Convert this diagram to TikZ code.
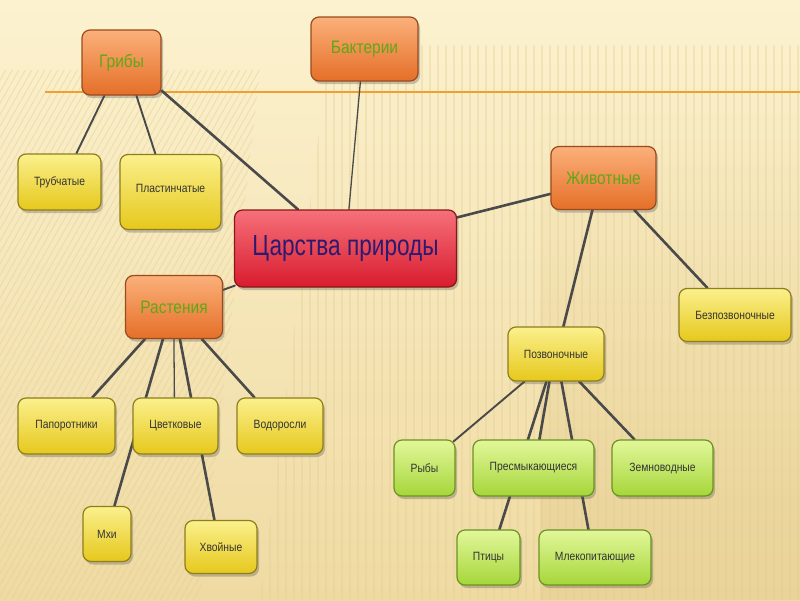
\documentclass[tikz,border=0pt]{standalone}
\usepackage{fontspec}
\setmainfont{Liberation Sans}[FakeStretch=0.86]
\newfontfamily\bigfont{Liberation Sans}[FakeStretch=0.78]
\usetikzlibrary{calc,shadows,fadings}
\pgfdeclarelayer{bg}
\pgfdeclarelayer{edges}
\pgfsetlayers{bg,edges,main}
\definecolor{bgtop}{HTML}{FCF2CF}
\definecolor{bgbot}{HTML}{EFDAA2}
\definecolor{bgtan}{HTML}{E6CF92}
\definecolor{stripe}{HTML}{E3CD94}
\definecolor{orTop}{HTML}{FBB07A}
\definecolor{orBot}{HTML}{E56F28}
\definecolor{orEdge}{HTML}{9A4A1E}
\definecolor{orText}{HTML}{5FA814}
\definecolor{yeTop}{HTML}{FBF08C}
\definecolor{yeBot}{HTML}{E6C81C}
\definecolor{yeEdge}{HTML}{8E7E1C}
\definecolor{grTop}{HTML}{E2F79A}
\definecolor{grBot}{HTML}{A6D63A}
\definecolor{grEdge}{HTML}{6A9420}
\definecolor{rdTop}{HTML}{F6707A}
\definecolor{rdBot}{HTML}{D81C2E}
\definecolor{rdEdge}{HTML}{861818}
\definecolor{rdText}{HTML}{2C1A70}
\definecolor{smText}{HTML}{333333}
\definecolor{conn}{HTML}{4A4A4A}
\definecolor{rule}{HTML}{F0A030}
\begin{document}
\begin{tikzpicture}[x=1pt,y=-1pt,
  box/.style={rounded corners=8pt, line width=1.2pt, inner sep=2pt,
    drop shadow={shadow xshift=2pt,shadow yshift=-3pt,opacity=0.3,fill=black!70}},
  obox/.style={box, draw=orEdge, top color=orTop, bottom color=orBot,
    text=orText, font=\fontsize{18}{20}\selectfont},
  ybox/.style={box, draw=yeEdge, top color=yeTop, bottom color=yeBot,
    text=smText, font=\fontsize{12}{14}\selectfont},
  gbox/.style={box, draw=grEdge, top color=grTop, bottom color=grBot,
    text=smText, font=\fontsize{12}{14}\selectfont},
  rbox/.style={box, draw=rdEdge, top color=rdTop, bottom color=rdBot,
    text=rdText, font=\bigfont\fontsize{29}{32}\selectfont},
  thk/.style={draw=conn, line width=2.6pt, line cap=round},
  med/.style={draw=conn, line width=1.9pt, line cap=round},
  thn/.style={draw=conn, line width=1.3pt, line cap=round},
  dstr/.style={draw=stripe, line width=1pt, opacity=0.45},
  vstr/.style={draw=stripe, line width=1.6pt, opacity=0.35}
]
\useasboundingbox (0,0) rectangle (800,600);

% nodes
\node[obox, minimum width=79pt, minimum height=65pt] (grib) at (121.5,62.5) {Грибы};
\node[obox, minimum width=107pt, minimum height=64pt] (bakt) at (364.5,49) {Бактерии};
\node[ybox, minimum width=83pt, minimum height=56pt] (trub) at (59.5,182) {Трубчатые};
\node[ybox, minimum width=101pt, minimum height=75pt] (plast) at (170.5,192) {\raisebox{8pt}{Пластинчатые}};
\node[rbox, minimum width=222pt, minimum height=77pt] (tsar) at (345.5,248.5) {Царства природы};
\node[obox, minimum width=105pt, minimum height=63pt] (zhiv) at (603.5,178) {Животные};
\node[ybox, minimum width=112pt, minimum height=53pt] (bezp) at (735,315) {Безпозвоночные};
\node[obox, minimum width=97pt, minimum height=63pt] (rast) at (174,307) {Растения};
\node[ybox, minimum width=96pt, minimum height=54pt] (pozv) at (556,354) {Позвоночные};
\node[ybox, minimum width=97pt, minimum height=56pt] (papor) at (66.5,426) {Папоротники};
\node[ybox, minimum width=85pt, minimum height=56pt] (tsvet) at (175.5,426) {Цветковые};
\node[ybox, minimum width=86pt, minimum height=56pt] (vodor) at (280,426) {Водоросли};
\node[ybox, minimum width=48pt, minimum height=55pt] (mkhi) at (107,534) {Мхи};
\node[ybox, minimum width=72pt, minimum height=53pt] (khvoi) at (221,547) {Хвойные};
\node[gbox, minimum width=61pt, minimum height=56pt] (ryby) at (424.5,468) {Рыбы};
\node[gbox, minimum width=121pt, minimum height=56pt] (presm) at (533.5,468) {Пресмыкающиеся};
\node[gbox, minimum width=101pt, minimum height=56pt] (zemn) at (662.5,468) {Земноводные};
\node[gbox, minimum width=63pt, minimum height=55pt] (ptitsy) at (488.5,557.5) {Птицы};
\node[gbox, minimum width=112pt, minimum height=55pt] (mlek) at (595,557.5) {Млекопитающие};

% background
\begin{pgfonlayer}{bg}
\shade[top color=bgtop, bottom color=bgbot] (0,0) rectangle (800,600);
\fill[bgtan, path fading=north, opacity=0.6] (540,110) rectangle (800,600);
\begin{scope}
\clip (0,70) -- (260,70) -- (200,600) -- (0,600) -- cycle;
\foreach \i in {0,...,90} \draw[dstr] ({\i*6.5-340},600) -- ++(340,-600);
\end{scope}
\begin{scope}
\clip (330,45) -- (800,45) -- (800,600) -- (260,600) -- cycle;
\foreach \i in {0,...,70} \draw[vstr] ({262+\i*8},45) -- ++(0,555);
\end{scope}
\end{pgfonlayer}

% connectors
\begin{pgfonlayer}{edges}
\coordinate (ruleL) at (45,92);
\coordinate (ruleR) at (800,92);
\draw[rule, line width=1.8pt] (ruleL) -- (ruleR);
\draw[med] ($(grib.south west)+(23,0)$) -- ($(trub.north west)+(59,0)$);
\draw[med] ($(grib.south west)+(55,0)$) -- ($(plast.north west)+(36,0)$);
\draw[thk] ($(grib.south east)+(0,-5)$) -- ($(tsar.north west)+(64,0)$);
\draw[thn] ($(bakt.south west)+(50,0)$) -- ($(tsar.north west)+(115,0)$);
\draw[thk] ($(tsar.north east)+(0,8)$) -- ($(zhiv.north west)+(0,48)$);
\draw[med] ($(tsar.south west)+(1,-2)$) -- ($(rast.north east)+(0,15)$);
\draw[thk] ($(zhiv.south west)+(42,0)$) -- ($(pozv.north west)+(56,0)$);
\draw[thk] ($(zhiv.south west)+(84,0)$) -- ($(bezp.north west)+(29,0)$);
\draw[thk] ($(rast.south west)+(20,0)$) -- ($(papor.north west)+(75,0)$);
\draw[thk] ($(rast.south west)+(38,0)$) -- ($(mkhi.north west)+(32,0)$);
\draw[thn] ($(rast.south west)+(49,0)$) -- ($(tsvet.north west)+(42,0)$);
\draw[thk] ($(rast.south west)+(55,0)$) -- ($(khvoi.north west)+(30,0)$);
\draw[thk] ($(rast.south west)+(77,0)$) -- ($(vodor.north west)+(18,0)$);
\draw[med] ($(pozv.south west)+(17,0)$) -- ($(ryby.north east)+(-2,2)$);
\draw[thk] ($(pozv.south west)+(39,0)$) -- ($(ptitsy.north west)+(43,0)$);
\draw[thk] ($(pozv.south west)+(42,0)$) -- ($(presm.north west)+(67,0)$);
\draw[thk] ($(pozv.south west)+(54,0)$) -- ($(mlek.north west)+(50,0)$);
\draw[thk] ($(pozv.south west)+(72,0)$) -- ($(zemn.north west)+(23,0)$);
\end{pgfonlayer}
\end{tikzpicture}
\end{document}
